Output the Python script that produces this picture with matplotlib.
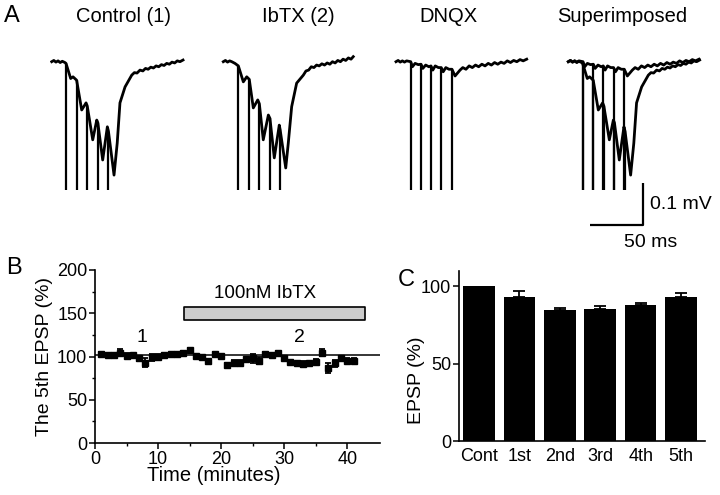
import numpy as np
import matplotlib
matplotlib.use('Agg')
import matplotlib.pyplot as plt

plt.rcParams['font.family'] = ['Liberation Sans', 'DejaVu Sans']

W, H = 720, 495

# ---- panel A: traces (time ms, potential mV) ----
ctrl_t = [0, 2, 4, 6, 8, 10, 12.5, 13.5, 15.7, 17.9, 20.1, 23.5, 28.3, 32.4, 33.5, 38.7,
          42.5, 43.5, 48.1, 52.5, 53.5, 58.8, 61.8, 64.4, 69.2, 75.5, 78, 80.5, 83.3, 86,
          88.5, 91, 93.5, 96, 98.5, 101, 103.5, 106, 108.5, 111, 113.5, 116, 118.5, 121, 123.9]
ctrl_v = [0, 0.003, -0.001, 0.002, -0.002, 0.001, -0.002, -0.004, -0.022, -0.040, -0.036,
          -0.044, -0.115, -0.098, -0.105, -0.186, -0.139, -0.145, -0.234, -0.155, -0.165,
          -0.270, -0.194, -0.098, -0.060, -0.032, -0.026, -0.027, -0.020, -0.022, -0.016,
          -0.018, -0.013, -0.015, -0.010, -0.012, -0.007, -0.009, -0.004, -0.006, -0.001,
          -0.003, 0.002, 0.000, 0.004]
ctrl_stim = [13.5, 23.5, 33.5, 43.5, 53.5]
ctrl_top = [-0.004, -0.044, -0.105, -0.145, -0.165]

ibtx_t = [0, 2, 4, 6, 8, 11, 14.2, 18.9, 22.1, 24.5, 28.3, 32.5, 34, 37.7, 42.5, 44, 48.1,
          52.8, 53.5, 58.9, 61.3, 64.5, 69.2, 75.5, 78, 80.5, 83, 85.5, 88, 90.5, 93, 95.5,
          98, 100.5, 103, 105.5, 108, 110.5, 113, 115.5, 118, 120.5, 122.6]
ibtx_v = [0, 0.003, -0.001, 0.002, 0.000, -0.004, -0.010, -0.048, -0.036, -0.042, -0.110,
          -0.091, -0.100, -0.186, -0.127, -0.135, -0.229, -0.151, -0.160, -0.253, -0.194,
          -0.107, -0.051, -0.032, -0.022, -0.020, -0.012, -0.014, -0.008, -0.010, -0.005,
          -0.008, -0.003, -0.006, 0.000, -0.003, 0.003, 0.000, 0.006, 0.003, 0.009, 0.006,
          0.012]
ibtx_stim = [14.2, 24.5, 34, 44, 53.5]
ibtx_top = [-0.010, -0.042, -0.100, -0.135, -0.160]

dnqx_t = [0, 2, 4, 6, 8, 10, 13.9, 15.5, 18, 21, 23.6, 25.3, 28, 31, 33, 34.7, 37, 40, 42.7,
          44.5, 47, 50, 52.8, 55.7, 60.4, 63, 66, 69, 72, 75, 78, 81, 84, 87, 90, 93, 96,
          99, 102, 105, 108, 111, 114, 117, 120, 123.3]
dnqx_v = [0, 0.003, -0.001, 0.002, -0.001, 0.002, 0, -0.012, -0.004, -0.007, -0.006, -0.016,
          -0.008, -0.012, -0.010, -0.020, -0.010, -0.014, -0.014, -0.024, -0.014, -0.018,
          -0.018, -0.034, -0.020, -0.014, -0.018, -0.010, -0.014, -0.008, -0.012, -0.006,
          -0.010, -0.004, -0.008, -0.002, -0.006, -0.001, -0.004, 0.002, -0.002, 0.003,
          0.000, 0.005, 0.002, 0.006]
dnqx_stim = [13.9, 23.6, 33, 42.7, 52.8]
dnqx_top = [0, -0.006, -0.010, -0.014, -0.018]

artifact_bottom = -0.305
titles = ['Control (1)', 'IbTX (2)', 'DNQX', 'Superimposed']

# ---- panel B: 5th EPSP over time ----
minutes = np.arange(1, 42)
epsp5 = [102.9, 101.8, 101.8, 104.5, 101, 101.8, 97.9, 92.9, 99.1, 99.8,
         101.8, 102.5, 102.9, 103.7, 107.5, 101, 99.1, 95.2, 102.9, 101,
         90.2, 92.9, 92.9, 96.8, 97.9, 95.2, 102.9, 101.8, 104.5, 97.9,
         94.1, 92.1, 91.4, 92.1, 94.1, 104.5, 86.4, 92.1, 97.9, 95.2, 95.2]
epsp5_err = [2, 2, 1.5, 4, 3, 2, 3, 5, 4, 3,
             2, 2, 2, 2.5, 2, 2, 2, 2, 2, 2,
             2, 3, 3, 2, 5, 4, 2, 2, 2, 2,
             2, 2, 3, 3, 3, 4, 6, 4, 2, 3, 3]
baseline_pct = 102
ibtx_on, ibtx_off = 14.1, 42.9
marks = {'1': 7.5, '2': 32.5}

# ---- panel C: EPSP per pulse ----
pulses = ['Cont', '1st', '2nd', '3rd', '4th', '5th']
pulse_mean = [100, 93.5, 84.5, 85.4, 88, 93]
pulse_err = [0, 3.3, 1.8, 2.1, 1.5, 3.0]


def px_axes(fig, left, top, right, bottom):
    return fig.add_axes([left / W, 1 - bottom / H, (right - left) / W, (bottom - top) / H])


fig = plt.figure(figsize=(W / 100, H / 100), dpi=100)

# trace axes: 1.06 px per ms, 420 px per mV
starts = [51.7, 223.3, 396, 568.3]
centers = [124, 298, 448, 622]
trace_sets = [[(ctrl_t, ctrl_v, ctrl_stim, ctrl_top)],
              [(ibtx_t, ibtx_v, ibtx_stim, ibtx_top)],
              [(dnqx_t, dnqx_v, dnqx_stim, dnqx_top)],
              [(ctrl_t, ctrl_v, ctrl_stim, ctrl_top), (dnqx_t, dnqx_v, dnqx_stim, dnqx_top)]]
for i, s in enumerate(starts):
    ax = px_axes(fig, s - 2, 45, s + 143, 235)
    ax.set_xlim(-2 / 1.06, 143 / 1.06)
    ax.set_ylim(-(235 - 61.7) / 420, (61.7 - 45) / 420)
    ax.axis('off')
    for t, v, st, top in trace_sets[i]:
        ax.plot(t, v, color='k', lw=2.0, solid_joinstyle='round')
        ax.vlines(st, artifact_bottom, top, color='k', lw=1.6)
    fig.text(centers[i] / W, 1 - 16 / H, titles[i], ha='center', va='center', fontsize=14.5)
    if i == 3:
        # scale bar: 50 ms x 0.1 mV
        xb = 70.5
        ax.plot([xb - 50, xb, xb], [-0.389, -0.389, -0.289], color='k', lw=1.6,
                clip_on=False, solid_capstyle='butt')
        ax.text(xb + 6.5, -0.34, '0.1 mV', ha='left', va='center', fontsize=14, clip_on=False)
        ax.text(xb + 7.5, -0.43, '50 ms', ha='center', va='center', fontsize=14, clip_on=False)

fig.text(12 / W, 1 - 16 / H, 'A', ha='center', va='center', fontsize=17)
fig.text(14 / W, 1 - 268 / H, 'B', ha='center', va='center', fontsize=17)
fig.text(406 / W, 1 - 280 / H, 'C', ha='center', va='center', fontsize=17)

# panel B
axb = px_axes(fig, 95, 270, 380, 443)
axb.errorbar(minutes, epsp5, yerr=epsp5_err, fmt='s', color='k', ms=4.8,
             elinewidth=1.3, capsize=2.2, capthick=1.3, clip_on=False)
axb.axhline(baseline_pct, color='k', lw=1.1)
axb.broken_barh([(ibtx_on, ibtx_off - ibtx_on)], (142, 15), facecolors='#cccccc',
                edgecolors='k', linewidth=1.2)
axb.text(27, 173, '100nM IbTX', ha='center', va='center', fontsize=13.5)
for lab, m in marks.items():
    axb.text(m, 122, lab, ha='center', va='center', fontsize=14)
axb.set_xlim(0, 45.2)
axb.set_ylim(0, 200)
axb.set_xticks([0, 10, 20, 30, 40])
axb.set_xticks(np.arange(5, 45, 10), minor=True)
axb.set_yticks([0, 50, 100, 150, 200])
axb.set_yticks([25, 75, 125, 175], minor=True)
axb.set_xlabel('Time (minutes)', fontsize=14.5)
axb.xaxis.set_label_coords(0.418, -0.135)
axb.set_ylabel('The 5th EPSP (%)', fontsize=14)
axb.yaxis.set_label_coords(-0.147, 0.5)

# panel C
axc = px_axes(fig, 459, 271, 705, 441)
x = np.arange(len(pulses))
axc.bar(x, pulse_mean, width=0.78, color='k')
axc.errorbar(x[1:], pulse_mean[1:], yerr=[np.zeros(5), pulse_err[1:]], fmt='none',
             ecolor='k', elinewidth=1.3, capsize=4, capthick=1.3)
axc.set_xlim(-0.49, 5.59)
axc.set_ylim(0, 110)
axc.set_xticks(x)
axc.set_xticklabels(pulses)
axc.set_yticks([0, 50, 100])
axc.set_ylabel('EPSP (%)', fontsize=14)
axc.yaxis.set_label_coords(-0.138, 0.36)

for ax in (axb, axc):
    for side in ('top', 'right'):
        ax.spines[side].set_visible(False)
    for side in ('left', 'bottom'):
        ax.spines[side].set_linewidth(1.2)
    ax.tick_params(which='major', direction='out', length=4, width=1.1, labelsize=13, pad=1.5)
    ax.tick_params(which='minor', direction='out', length=2.5, width=1.0)
axc.tick_params(axis='x', length=0, pad=5)

fig.savefig('out.png', dpi=100)
